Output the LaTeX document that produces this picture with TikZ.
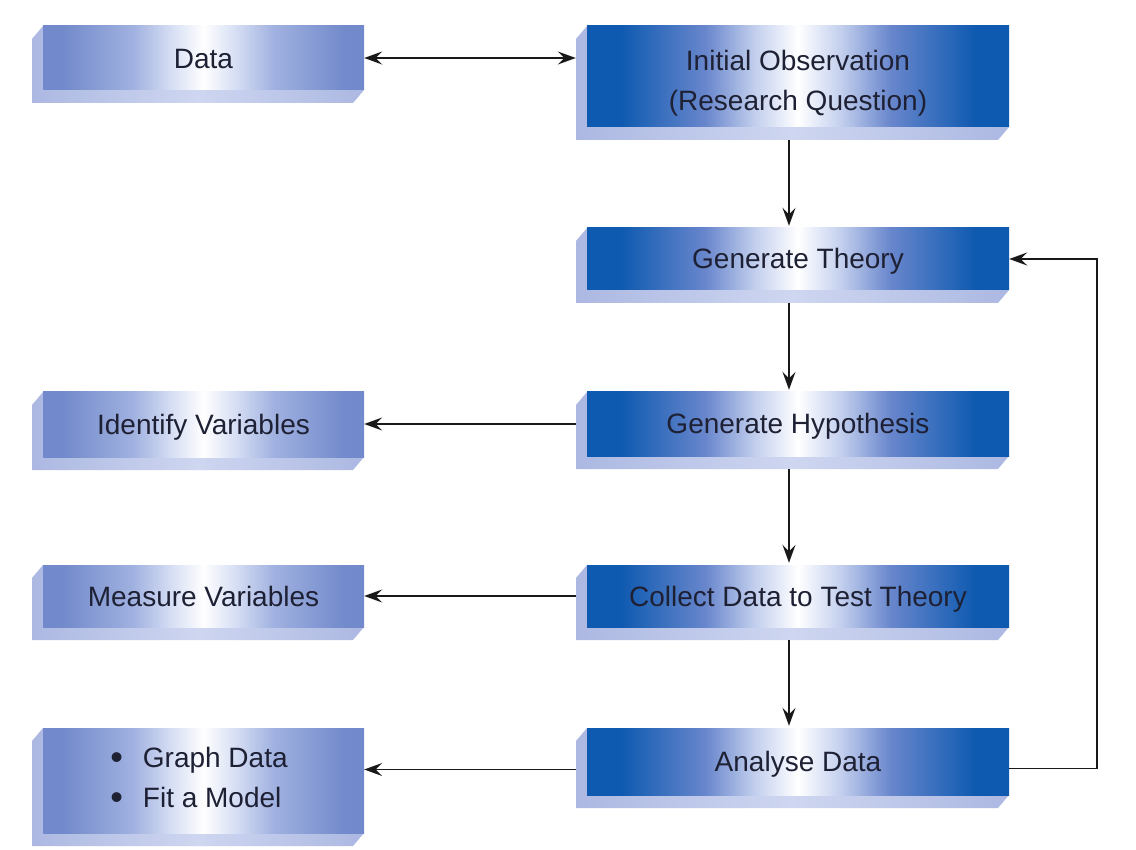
\documentclass[tikz,border=0pt]{standalone}
\usepackage{fontspec}
\setmainfont{Liberation Sans}
\usetikzlibrary{arrows.meta}
\definecolor{dk}{RGB}{14,90,176}
\definecolor{md}{RGB}{104,134,204}
\definecolor{ml}{RGB}{196,208,238}
\definecolor{lt}{RGB}{114,138,203}
\definecolor{lmd}{RGB}{160,177,224}
\definecolor{lml}{RGB}{214,222,244}
\definecolor{exA}{RGB}{172,184,226}
\definecolor{exB}{RGB}{206,214,240}
\definecolor{ink}{RGB}{30,32,52}
% TikZ maps the 25bp--75bp part of a shading onto the path
\pgfdeclarehorizontalshading{darkbar}{100bp}{color(0bp)=(dk); color(29bp)=(dk); color(39bp)=(md); color(45bp)=(ml); color(50bp)=(white); color(55bp)=(ml); color(61bp)=(md); color(71bp)=(dk); color(100bp)=(dk)}
\pgfdeclarehorizontalshading{lightbar}{100bp}{color(0bp)=(lt); color(28bp)=(lt); color(39bp)=(lmd); color(45bp)=(lml); color(50bp)=(white); color(55bp)=(lml); color(61bp)=(lmd); color(72bp)=(lt); color(100bp)=(lt)}
\pgfdeclarehorizontalshading{extbar}{100bp}{color(0bp)=(exA); color(25bp)=(exA); color(50bp)=(exB); color(75bp)=(exA); color(100bp)=(exA)}
\tikzset{
  darkface/.style={rectangle, inner sep=0pt, shading=darkbar},
  lightface/.style={rectangle, inner sep=0pt, shading=lightbar},
  extrude/.style={shading=extbar},
  lbl/.style={font=\fontsize{28}{40}\selectfont, text=ink, inner sep=0pt},
  one/.style={lbl, text height=20pt, text depth=0pt},
  tip/.tip={Stealth[length=18pt,width=13pt,inset=6.5pt]},
  arr/.style={draw=black!90, line width=1.7pt, -tip},
  darr/.style={draw=black!90, line width=1.7pt, tip-tip}
}
% #1 name, #2 cx, #3 cy, #4 w, #5 h, #6 face style
\newcommand{\slab}[6]{%
  \shade[extrude] ({#2-#4/2},{#3-#5/2}) -- ++(-11,13) -- ({#2-#4/2-11},{#3+#5/2+13}) -- ({#2+#4/2-11},{#3+#5/2+13}) -- ({#2+#4/2},{#3+#5/2}) -- cycle;
  \node[#6, minimum width=#4pt, minimum height=#5pt] (#1) at (#2,#3) {};
}
\newcommand{\bul}{\raisebox{-2.5pt}{\fontsize{36}{40}\selectfont •}}
\begin{document}
\begin{tikzpicture}[x=1pt,y=-1pt]
\useasboundingbox (0,0) rectangle (1136,850);
\fill[white] (0,0) rectangle (1136,850);
% boxes
\slab{data}{203.5}{58}{321}{64}{lightface}
\slab{init}{798}{76.5}{422}{101}{darkface}
\slab{theory}{798}{259}{422}{62}{darkface}
\slab{hyp}{798}{424}{422}{64}{darkface}
\slab{ident}{203.5}{424.5}{321}{65}{lightface}
\slab{collect}{798}{596}{422}{62}{darkface}
\slab{measure}{203.5}{596}{321}{62}{lightface}
\slab{analyse}{798}{761.5}{422}{67}{darkface}
\slab{graph}{203.5}{780.5}{321}{105}{lightface}
% labels
\node[one] (dataT) at ([yshift=-1pt]data.center) {Data};
\node[lbl, align=center] (initT) at ([yshift=-6.5pt]init.center) {Initial Observation\\(Research Question)};
\node[one] (theoryT) at (theory.center) {Generate Theory};
\node[one] (hypT) at (hyp.center) {Generate Hypothesis};
\node[one] (identT) at (ident.center) {Identify Variables};
\node[one] (collectT) at (collect.center) {Collect Data to Test Theory};
\node[one] (measureT) at (measure.center) {Measure Variables};
\node[one] (analyseT) at (analyse.center) {Analyse Data};
\node[lbl, align=left] (graphT) at ([xshift=-4.5pt,yshift=2pt]graph.center) {\bul\hspace{20pt}Graph Data\\\bul\hspace{20pt}Fit a Model};
% helper coordinates
\coordinate (initL) at ([xshift=-11pt]init.west);
\coordinate (loopc) at (1097,0);
\coordinate (aw) at ([yshift=-8pt]analyse.west);
\coordinate (ae) at ([yshift=-7pt]analyse.east);
% connectors
\draw[darr] (data.east) -- (data.east -| initL);
\draw[arr] ([xshift=-9pt,yshift=-13pt]init.south) -- ([xshift=-9pt,yshift=2pt]theory.north);
\draw[arr] ([xshift=-9pt,yshift=-13pt]theory.south) -- ([xshift=-9pt,yshift=2pt]hyp.north);
\draw[arr] ([xshift=-9pt,yshift=-13pt]hyp.south) -- ([xshift=-9pt,yshift=2pt]collect.north);
\draw[arr] ([xshift=-9pt,yshift=-13pt]collect.south) -- ([xshift=-9pt,yshift=2pt]analyse.north);
\draw[arr] ([xshift=-11pt]hyp.west) -- (hyp.west -| ident.east);
\draw[arr] ([xshift=-11pt]collect.west) -- (collect.west -| measure.east);
\draw[arr] ([xshift=-11pt]aw) -- (aw -| graph.east);
\draw[arr] (ae) -- (ae -| loopc) |- (theory.east);
\end{tikzpicture}
\end{document}
